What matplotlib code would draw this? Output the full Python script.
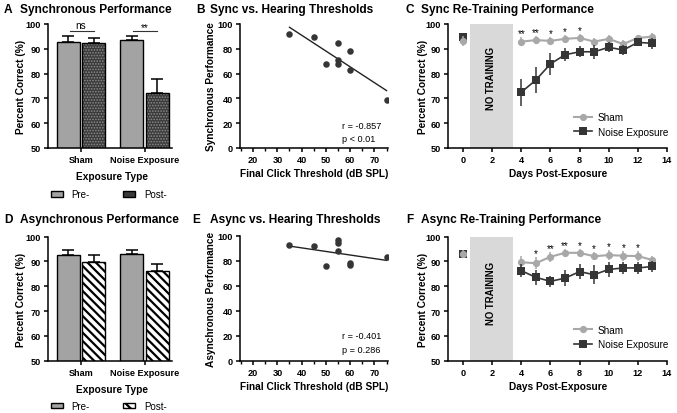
import numpy as np
import matplotlib
matplotlib.use("Agg")
import matplotlib.pyplot as plt
from matplotlib.patches import Patch
from matplotlib.lines import Line2D

plt.rcParams['font.family'] = ['Liberation Sans', 'DejaVu Sans']

# ---------------- data ----------------
groups = ['Sham', 'Noise Exposure']
sync_pre = [92.9, 93.7]
sync_pre_err = [2.4, 1.6]
sync_post = [92.3, 72.2]
sync_post_err = [2.1, 5.6]
async_pre = [92.7, 93.1]
async_pre_err = [1.8, 1.5]
async_post = [89.7, 86.0]
async_post_err = [2.9, 3.0]
sync_sig = ['ns', '**']

thresholds = [35, 45, 50, 55, 55, 55, 60, 60, 75]
sync_perf = [92.2, 89.8, 67.9, 84.4, 70.9, 67.4, 78.4, 63.3, 38.5]
async_perf = [92.5, 91.7, 75.5, 96.5, 93.9, 87.5, 77.9, 76.5, 83.2]
sync_stats = ['r = -0.857', 'p < 0.01']
async_stats = ['r = -0.401', 'p = 0.286']

base_day = [0]
days = [4, 5, 6, 7, 8, 9, 10, 11, 12, 13]
sync_sham0, sync_sham0_err = 93.3, 2.0
sync_noise0, sync_noise0_err = 94.6, 1.0
sync_sham = [92.9, 93.5, 93.2, 94.0, 94.4, 92.9, 94.0, 91.9, 94.4, 94.9]
sync_sham_err = [1.8, 1.6, 1.6, 1.5, 1.6, 1.6, 1.4, 1.5, 1.3, 1.5]
sync_noise = [72.5, 77.4, 83.9, 87.6, 88.8, 88.8, 90.6, 89.5, 92.6, 92.2]
sync_noise_err = [5.4, 5.1, 4.6, 2.6, 2.3, 2.8, 2.0, 2.2, 1.6, 2.2]
sync_stars = {4: '**', 5: '**', 6: '*', 7: '*', 8: '*'}

async_sham0, async_sham0_err = 93.0, 1.5
async_noise0, async_noise0_err = 93.0, 1.5
async_sham = [89.7, 89.3, 91.9, 93.5, 93.5, 92.1, 92.6, 92.3, 92.2, 90.6]
async_sham_err = [2.5, 2.5, 2.0, 1.5, 1.5, 1.6, 2.0, 2.0, 2.0, 1.8]
async_noise = [86.3, 83.6, 82.0, 83.3, 85.9, 84.7, 86.8, 87.4, 87.4, 88.0]
async_noise_err = [2.5, 3.0, 2.2, 3.3, 3.0, 3.8, 3.0, 2.5, 2.5, 2.3]
async_stars = {5: '*', 6: '**', 7: '**', 8: '*', 9: '*', 10: '*', 11: '*', 12: '*'}

# ---------------- style ----------------
W, H = 677, 414
BAR_GRAY = '#a3a3a3'
DARK = '#3a3a3a'
SHAM_C = '#a8a8a8'
NOISE_C = '#353535'
TICK_FS = 6.6
LAB_FS = 7.3
TITLE_FS = 8.6

fig = plt.figure(figsize=(W / 100, H / 100), dpi=100)


def rect(l, t, r, b):
    return [l / W, 1 - b / H, (r - l) / W, (b - t) / H]


def style(ax):
    for s in ['top', 'right']:
        ax.spines[s].set_visible(False)
    for s in ['left', 'bottom']:
        ax.spines[s].set_linewidth(1.1)
    ax.tick_params(direction='out', length=3, width=1.1, labelsize=TICK_FS, pad=2)
    for lbl in ax.get_xticklabels() + ax.get_yticklabels():
        lbl.set_fontweight('bold')


def title(x_letter, x_text, y, letter, text):
    fig.text(x_letter / W, 1 - y / H, letter, fontsize=TITLE_FS, fontweight='bold', va='center', ha='left')
    fig.text(x_text / W, 1 - y / H, text, fontsize=TITLE_FS, fontweight='bold', va='center', ha='left')


def bar_panel(ax, pre, pre_err, post, post_err, kind, leg_y):
    x = np.arange(len(groups))
    w = 0.36
    off = 0.2
    ax.bar(x - off, pre, w, bottom=0, color=BAR_GRAY, edgecolor='black', linewidth=1.0, zorder=2)
    if kind == 'dots':
        plt.rcParams['hatch.linewidth'] = 0.8
        b = ax.bar(x + off, post, w, color=DARK, edgecolor='#8c8c8c', hatch='......', linewidth=0, zorder=2)
        post_patch = Patch(facecolor=DARK, edgecolor='black', linewidth=1.0)
    else:
        plt.rcParams['hatch.linewidth'] = 1.6
        b = ax.bar(x + off, post, w, color='white', edgecolor='black', hatch='\\\\\\\\', linewidth=0, zorder=2)
        post_patch = Patch(facecolor='white', edgecolor='black', hatch='\\\\\\', linewidth=1.0)
    for p in b:
        if hasattr(p, 'set_hatch_linewidth'):
            p.set_hatch_linewidth(plt.rcParams['hatch.linewidth'])
    ax.bar(x + off, post, w, fill=False, edgecolor='black', linewidth=1.0, zorder=3)
    ax.errorbar(x - off, pre, yerr=[np.zeros(len(pre)), pre_err], fmt='none', ecolor='black',
                elinewidth=1.1, capsize=4, capthick=1.1, zorder=1)
    ax.errorbar(x + off, post, yerr=[np.zeros(len(post)), post_err], fmt='none', ecolor='black',
                elinewidth=1.1, capsize=4, capthick=1.1, zorder=1)
    ax.set_ylim(50, 100)
    ax.set_xlim(-0.52, 1.43)
    ax.set_yticks(np.arange(50, 101, 10))
    ax.set_xticks(x)
    ax.set_xticklabels(groups)
    ax.set_ylabel('Percent Correct (%)', fontsize=LAB_FS, fontweight='bold')
    ax.set_xlabel('Exposure Type', fontsize=LAB_FS, fontweight='bold')
    ax.yaxis.set_label_coords(-0.18, 0.5)
    ax.xaxis.set_label_coords(0.516, -0.185)
    style(ax)
    pre_patch = Patch(facecolor=BAR_GRAY, edgecolor='black', linewidth=1.0)
    ax.legend([pre_patch, post_patch], ['Pre-', 'Post-'], ncol=2, loc='center',
              bbox_to_anchor=(0.49, leg_y), frameon=False, fontsize=7,
              handlelength=1.25, handleheight=0.45, columnspacing=3.4, handletextpad=0.9)
    return x, off


# ---- A ----
axA = fig.add_axes(rect(48, 25, 172, 149))
xA, offA = bar_panel(axA, sync_pre, sync_pre_err, sync_post, sync_post_err, 'dots', -0.375)
for i, s in enumerate(sync_sig):
    axA.plot([xA[i] - offA + 0.02, xA[i] + offA], [97.3, 97.3], color='#333333', lw=0.8, clip_on=False)
    axA.text(xA[i], 98.2 if s == 'ns' else 97.6, s, ha='center', va='baseline', fontsize=7.2, clip_on=False)

# ---- D ----
axD = fig.add_axes(rect(48, 237.7, 172, 361.7))
bar_panel(axD, async_pre, async_pre_err, async_post, async_post_err, 'stripes', -0.365)


# ---- scatter panels ----
def scatter_panel(ax, perf, ylabel, stats, sy):
    ax.scatter(thresholds, perf, s=22, color=NOISE_C, zorder=3, linewidths=0)
    k, c = np.polyfit(thresholds, perf, 1)
    xs = np.array([min(thresholds), max(thresholds)])
    ax.plot(xs, k * xs + c, color='#222222', lw=1.0)
    ax.set_xlim(14.6, 75.6)
    ax.set_ylim(0, 100)
    ax.set_xticks(np.arange(20, 71, 10))
    ax.set_xticks(np.arange(15, 76, 10), minor=True)
    ax.set_yticks(np.arange(0, 101, 20))
    ax.tick_params(which='minor', direction='out', length=2, width=1.0)
    ax.set_ylabel(ylabel, fontsize=LAB_FS, fontweight='bold')
    ax.set_xlabel('Final Click Threshold (dB SPL)', fontsize=LAB_FS, fontweight='bold')
    ax.yaxis.set_label_coords(-0.16, 0.5)
    ax.xaxis.set_label_coords(0.5, -0.165)
    style(ax)
    ax.text(0.687, sy[0], stats[0], transform=ax.transAxes, fontsize=6.6, va='center')
    ax.text(0.687, sy[1], stats[1], transform=ax.transAxes, fontsize=6.6, va='center')


axB = fig.add_axes(rect(240, 25, 388, 149))
scatter_panel(axB, sync_perf, 'Synchronous Performance', sync_stats, (0.18, 0.075))
axE = fig.add_axes(rect(240, 236.7, 388, 361.7))
scatter_panel(axE, async_perf, 'Asynchronous Performance', async_stats, (0.205, 0.09))


# ---- time-course panels ----
def course_panel(ax, sham0, sham0e, noise0, noise0e, sham, shame, noise, noisee, stars, text_y):
    ax.axvspan(0.5, 3.4, color='#d9d9d9', zorder=0, lw=0)
    ax.text(1.95, text_y, 'NO TRAINING', rotation=90, ha='center', va='center',
            fontsize=6.9, fontweight='bold')
    ekw = dict(elinewidth=1.1, capsize=2.6, capthick=1.1, markersize=5.2, markeredgewidth=0)
    ax.errorbar(base_day, [noise0], yerr=[noise0e], fmt='s', color=NOISE_C, ecolor=NOISE_C, zorder=3, **ekw)
    ax.errorbar(base_day, [sham0], yerr=[sham0e], fmt='o', color=SHAM_C, ecolor=SHAM_C, zorder=4, **ekw)
    ax.errorbar(days, sham, yerr=shame, fmt='-o', color=SHAM_C, ecolor=SHAM_C, lw=1.5, zorder=3, **ekw)
    ax.errorbar(days, noise, yerr=noisee, fmt='-s', color=NOISE_C, ecolor=NOISE_C, lw=1.2, zorder=4, **ekw)
    for d, s in stars.items():
        i = days.index(d)
        ax.text(d, sham[i] + shame[i] + 0.5, s, ha='center', va='baseline', fontsize=7, clip_on=False)
    ax.set_xlim(-1.03, 14)
    ax.set_ylim(50, 100)
    ax.set_xticks(np.arange(0, 15, 2))
    ax.set_yticks(np.arange(50, 101, 10))
    ax.set_ylabel('Percent Correct (%)', fontsize=LAB_FS, fontweight='bold')
    ax.set_xlabel('Days Post-Exposure', fontsize=LAB_FS, fontweight='bold')
    ax.yaxis.set_label_coords(-0.092, 0.5)
    ax.xaxis.set_label_coords(0.505, -0.165)
    style(ax)
    h1 = Line2D([], [], color=SHAM_C, lw=1.5, marker='o', markersize=5.2, markeredgewidth=0)
    h2 = Line2D([], [], color=NOISE_C, lw=1.2, marker='s', markersize=5.2, markeredgewidth=0)
    ax.legend([h1, h2], ['Sham', 'Noise Exposure'], loc='upper left', bbox_to_anchor=(0.575, 0.29),
              frameon=False, fontsize=7.2, handlelength=1.8, handletextpad=0.6, labelspacing=0.45,
              borderaxespad=0, borderpad=0)


axC = fig.add_axes(rect(448, 25, 667, 149))
course_panel(axC, sync_sham0, sync_sham0_err, sync_noise0, sync_noise0_err,
             sync_sham, sync_sham_err, sync_noise, sync_noise_err, sync_stars, 78.6)
axF = fig.add_axes(rect(448, 237.7, 667, 361.7))
course_panel(axF, async_sham0, async_sham0_err, async_noise0, async_noise0_err,
             async_sham, async_sham_err, async_noise, async_noise_err, async_stars, 77.7)

# ---- titles ----
title(4, 20, 10, 'A', 'Synchronous Performance')
title(196, 210, 10, 'B', 'Sync vs. Hearing Thresholds')
title(406, 421, 10, 'C', 'Sync Re-Training Performance')
title(4, 20, 220, 'D', 'Asynchronous Performance')
title(192, 210, 220, 'E', 'Async vs. Hearing Thresholds')
title(406, 421, 220, 'F', 'Async Re-Training Performance')

fig.savefig('out.png', dpi=100)
